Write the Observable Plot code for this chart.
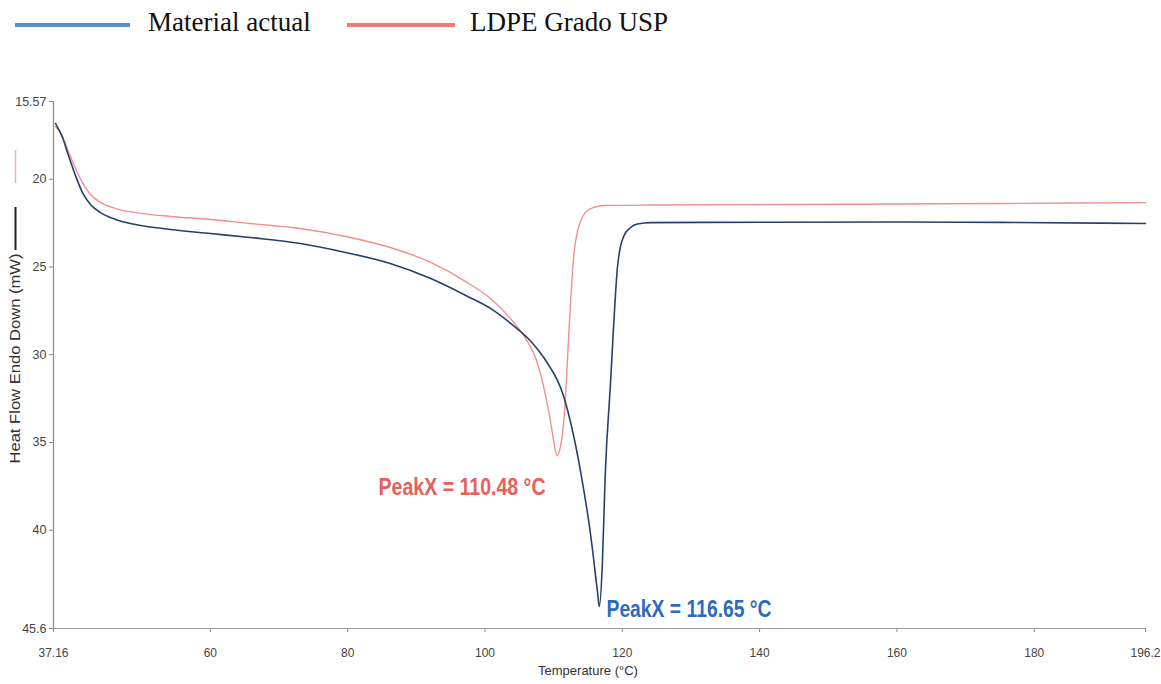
<!DOCTYPE html>
<html><head><meta charset="utf-8">
<script src="https://cdn.jsdelivr.net/npm/d3@7"></script>
<script src="https://cdn.jsdelivr.net/npm/@observablehq/plot@0.6"></script>
<style>
body{margin:0;background:#fff;width:1161px;height:684px;overflow:hidden;}
#legend{position:relative;height:50px;font-family:"Liberation Serif","Times New Roman",serif;font-size:27px;color:#111;}
.sw{position:absolute;top:23px;height:4px;}
.lb{position:absolute;top:6px;line-height:32px;white-space:nowrap;}
#chart svg{display:block;}
</style></head><body>
<div id="legend"></div>
<div id="chart"></div>
<script>
const seriesNames = ["Material actual", "LDPE Grado USP"];
const seriesColors = ["#27406b", "#f09090"];
const legendColors = ["#5a8ccf", "#f07b73"];
const labelColors = ["#2a6bbf", "#e8605a"];

const blueTemp = [37.45, 38.47, 39.34, 40.36, 41.38, 42.55, 44.0, 46.19, 49.1, 54.2, 60.0, 65.8, 73.1, 79.7, 86.2, 92.1, 97.2, 100.8, 103.7, 106.6, 108.8, 111.4, 113.9, 115.4, 116.4, 116.65, 117.1, 117.5, 118.3, 118.7, 119.3, 119.7, 120.2, 121.2, 122.2, 124.1, 131.4, 160.5, 175.1, 196.2];
const blueFlow = [16.82, 17.62, 18.65, 19.79, 20.76, 21.44, 21.9, 22.29, 22.58, 22.86, 23.09, 23.32, 23.66, 24.17, 24.8, 25.66, 26.62, 27.36, 28.2, 29.2, 30.3, 32.3, 36.6, 40.3, 43.55, 44.35, 41.9, 37.0, 31.5, 28.6, 25.0, 23.9, 23.25, 22.75, 22.55, 22.47, 22.46, 22.44, 22.46, 22.52];

const redTemp = [37.45, 38.47, 39.34, 40.36, 41.38, 42.55, 44.0, 46.19, 49.1, 54.2, 60.0, 65.8, 73.1, 79.7, 86.2, 92.1, 97.2, 100.8, 103.7, 105.9, 107.4, 108.5, 109.4, 110.0, 110.48, 111.15, 111.6, 111.9, 112.2, 112.5, 112.9, 113.5, 114.1, 114.6, 115.8, 117.5, 124.1, 146.0, 175.1, 196.2];
const redFlow = [17.0, 17.56, 18.42, 19.39, 20.19, 20.87, 21.32, 21.67, 21.9, 22.12, 22.29, 22.52, 22.81, 23.26, 23.89, 24.74, 25.83, 26.8, 27.93, 29.07, 30.21, 31.75, 33.46, 34.89, 35.74, 34.89, 33.18, 31.18, 28.9, 26.8, 24.46, 22.92, 22.24, 21.9, 21.61, 21.5, 21.47, 21.44, 21.38, 21.33];

const xTicks = [37.16, 60, 80, 100, 120, 140, 160, 180, 196.2];
const yTicks = [15.57, 20, 25, 30, 35, 40, 45.6];
const xTitle = "Temperature (°C)";
const yTitle = "Heat Flow Endo Down (mW)";

// peak annotations
const peakTemps = [116.65, 110.48];
const peakLabelX = [117.7, 84.5];
const peakLabelY = [44.97, 38.02];

// legend (HTML)
const legend = document.getElementById("legend");
const swLeft = [15, 347], swWidth = [115, 108], lbLeft = [148, 470];
seriesNames.forEach((n, i) => {
  const s = document.createElement("div");
  s.className = "sw";
  s.style.left = swLeft[i] + "px"; s.style.width = swWidth[i] + "px"; s.style.background = legendColors[i];
  legend.appendChild(s);
  const l = document.createElement("div");
  l.className = "lb"; l.style.left = lbLeft[i] + "px"; l.textContent = n;
  legend.appendChild(l);
});

const blue = blueTemp.map((t, i) => ({t, v: blueFlow[i]}));
const red = redTemp.map((t, i) => ({t, v: redFlow[i]}));
const peaks = peakTemps.map((p, i) => ({label: `PeakX = ${p} °C`, x: peakLabelX[i], y: peakLabelY[i], color: labelColors[i]}));

const fmt = d => String(d);
const plot = Plot.plot({
  width: 1161, height: 634,
  marginLeft: 53, marginRight: 16, marginTop: 51, marginBottom: 56,
  style: {fontFamily: "'Liberation Sans', Arial, sans-serif", fontSize: "12px", color: "#444", background: "#fff", overflow: "visible"},
  x: {domain: [37.16, 196.2]},
  y: {domain: [15.57, 45.6], reverse: true},
  marks: [
    Plot.axisX({ticks: xTicks, tickFormat: fmt, tickSize: 4, tickPadding: 16, label: null, stroke: "#888", fill: "#444"}),
    Plot.axisY({ticks: yTicks, tickFormat: fmt, tickSize: 4, tickPadding: 3, label: null, stroke: "#888", fill: "#444", fontSize: 12.5}),
    Plot.ruleX([37.16], {stroke: "#8a8a8a", strokeWidth: 1.2}),
    Plot.ruleY([45.6], {stroke: "#9a9a9a", strokeWidth: 1.2}),
    Plot.line(red, {x: "t", y: "v", stroke: seriesColors[1], strokeWidth: 1.4, curve: "monotone-x"}),
    Plot.line(blue, {x: "t", y: "v", stroke: seriesColors[0], strokeWidth: 1.6, curve: "monotone-x"}),
    Plot.text(peaks, {x: "x", y: "y", text: "label", fill: "color", textAnchor: "start", lineAnchor: "bottom", fontSize: 24, fontWeight: "bold"}),
    Plot.text([xTitle], {x: 115, frameAnchor: "bottom", dy: 42, text: d => d, fontSize: 13, fill: "#333", lineAnchor: "middle"}),
    Plot.text([yTitle], {x: 37.16, y: 36.2, dx: -38, rotate: -90, text: d => d, textAnchor: "start", lineAnchor: "middle", fontSize: 14, fill: "#333"}),
    Plot.ruleX([37.16], {y1: 21.61, y2: 24.06, dx: -38, stroke: "#222", strokeWidth: 2}),
    Plot.ruleX([37.16], {y1: 18.36, y2: 20.24, dx: -38, stroke: "#f4b0b0", strokeWidth: 1.5})
  ]
});
document.getElementById("chart").appendChild(plot);

d3.select(plot).selectAll("text").each(function() {
  const s = this.textContent;
  if (s.startsWith("PeakX = 110")) { this.setAttribute("textLength", 167); this.setAttribute("lengthAdjust", "spacingAndGlyphs"); }
  else if (s.startsWith("PeakX = 116")) { this.setAttribute("textLength", 165); this.setAttribute("lengthAdjust", "spacingAndGlyphs"); }
  else if (s === yTitle) { this.setAttribute("textLength", 210); this.setAttribute("lengthAdjust", "spacingAndGlyphs"); }
});
</script>
</body></html>
